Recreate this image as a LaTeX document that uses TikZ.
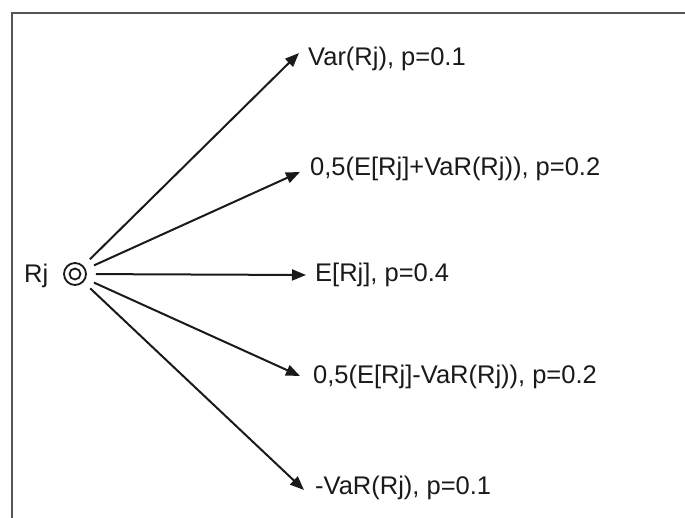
\documentclass[tikz,border=0pt]{standalone}
\usepackage{fontspec}
\setmainfont{Liberation Sans}
\usetikzlibrary{arrows.meta}
\definecolor{framegray}{HTML}{555555}
\definecolor{ink}{HTML}{1A1A1A}
\tikzset{
  lbl/.style={anchor=base west, inner sep=0pt, text=ink, font=\fontsize{25.5}{30}\selectfont},
  branch/.style={draw=ink, line width=2pt, shorten <=9pt, -{Triangle[length=14pt,width=11pt]}},
  ring/.style={draw=ink, line width=1.8pt, circle, inner sep=0pt},
}
\begin{document}
\begin{tikzpicture}[x=1pt,y=-1pt]
\useasboundingbox (0,0) rectangle (685,518);
\fill[white] (0,0) rectangle (685,518);
\draw[framegray, line width=2pt] (12,518) -- (12,13) -- (685,13);
% root
\node[ring, minimum size=22pt] (root) at (75,274) {};
\node[ring, minimum size=11pt] (rootin) at (75,274) {};
\node[lbl] (rootlbl) at (24,283) {Rj};
% tips
\coordinate (t1) at (299,53);
\coordinate (t2) at (300,172);
\coordinate (t3) at (306,275);
\coordinate (t4) at (300,376);
\coordinate (t5) at (304,490);
% labels
\node[lbl] (l1) at (308,66) {Var(Rj), p=0.1};
\node[lbl] (l2) at (310,176) {0,5(E[Rj]+VaR(Rj)), p=0.2};
\node[lbl] (l3) at (315,282) {E[Rj], p=0.4};
\node[lbl] (l4) at (313,383) {0,5(E[Rj]-VaR(Rj)), p=0.2};
\node[lbl] (l5) at (315,494) {-VaR(Rj), p=0.1};
% branches
\foreach \t in {t1,t2,t3,t4,t5}{
  \draw[branch] (root) -- (\t);
}
\end{tikzpicture}
\end{document}
